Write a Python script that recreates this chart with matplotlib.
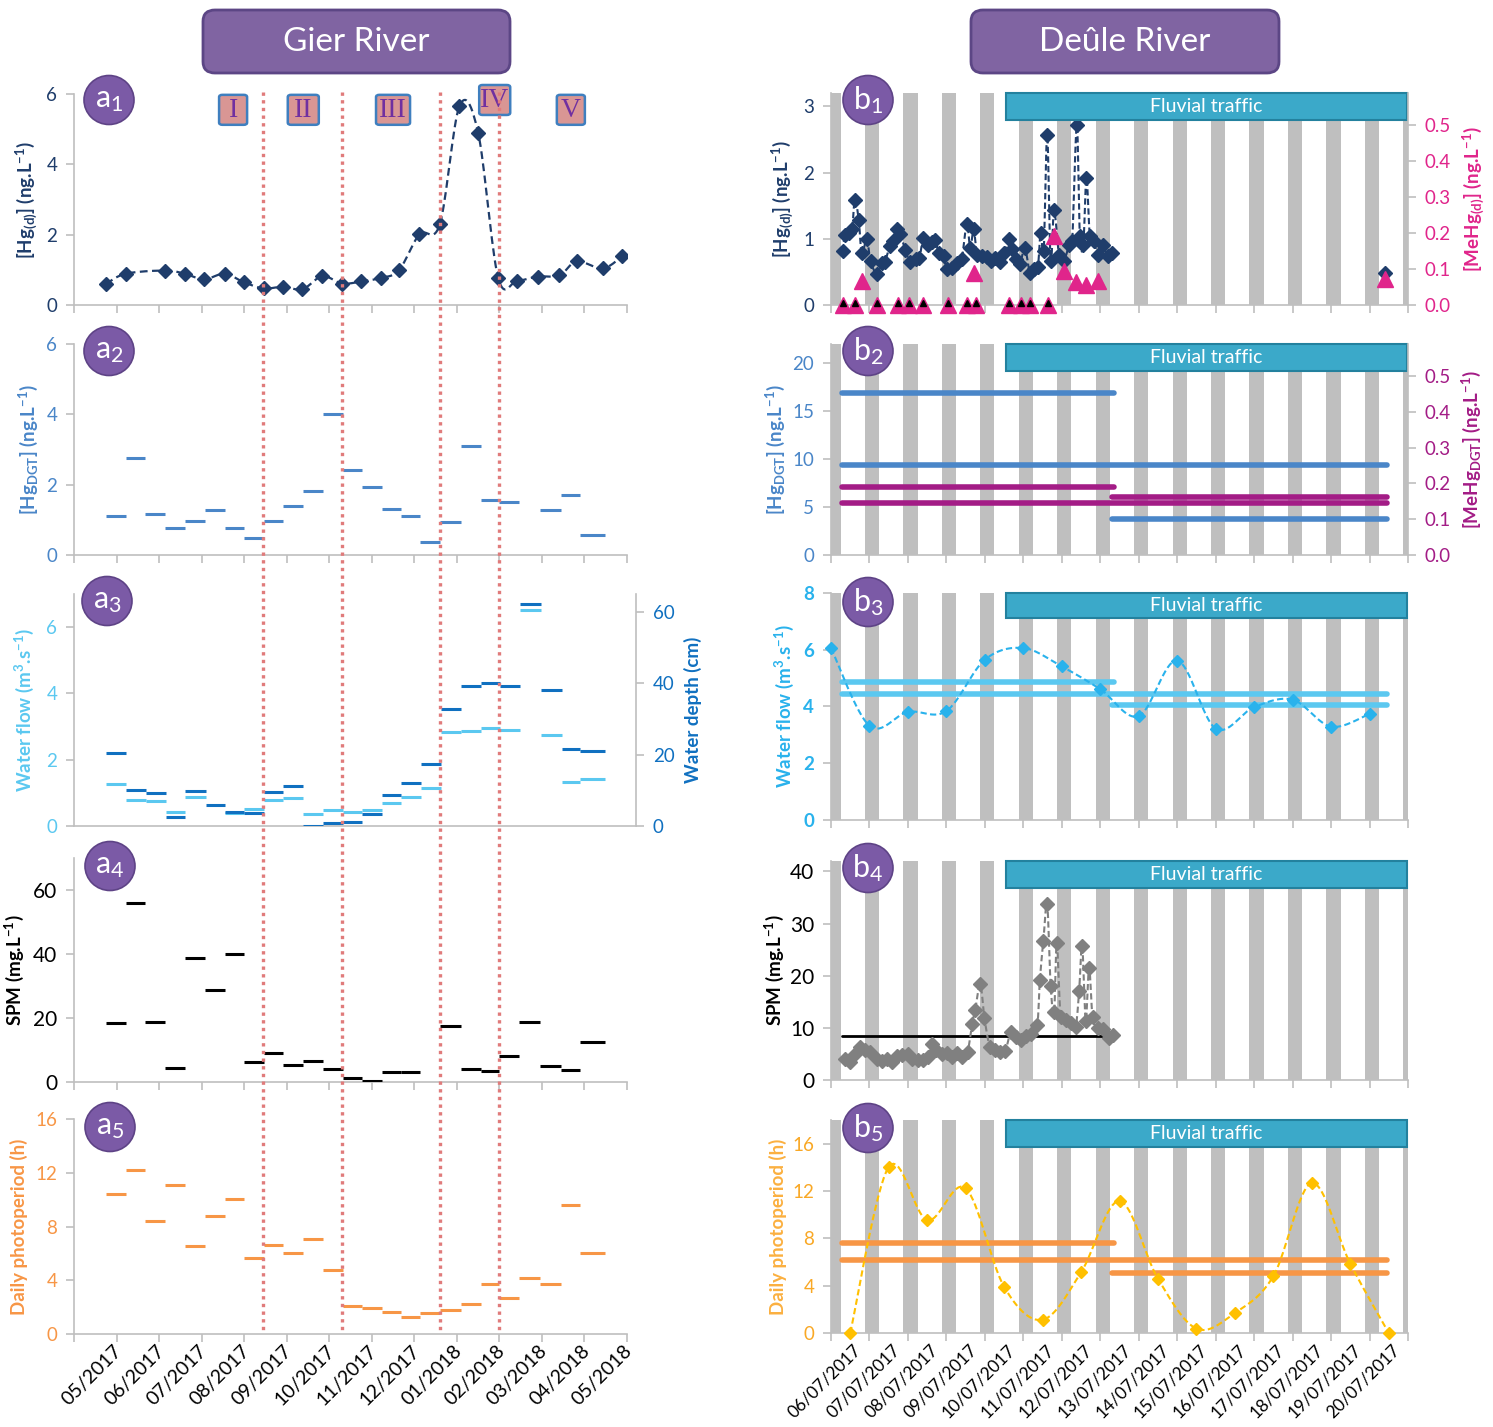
import numpy as np
import matplotlib
matplotlib.use("Agg")
import matplotlib.pyplot as plt
from matplotlib import transforms
from matplotlib.patches import Ellipse, FancyBboxPatch, Rectangle
from matplotlib.lines import Line2D

plt.rcParams['font.family'] = ['Lato', 'DejaVu Sans']
plt.rcParams['mathtext.fontset'] = 'custom'
plt.rcParams['mathtext.rm'] = 'Lato'
plt.rcParams['mathtext.default'] = 'regular'

# =============================
#     DATA - GIER RIVER
# =============================
# x positions in months, 0 = start of the axis (May 2017)
month_labels = ['05/2017', '06/2017', '07/2017', '08/2017', '09/2017', '10/2017', '11/2017',
                '12/2017', '01/2018', '02/2018', '03/2018', '04/2018', '05/2018']

hg_d_month = [0.75, 1.22, 2.14, 2.60, 3.06, 3.54, 3.99, 4.46, 4.91, 5.37, 5.84, 6.30, 6.75,
              7.21, 7.64, 8.12, 8.60, 9.06, 9.50, 9.97, 10.42, 10.90, 11.41, 11.82, 12.43, 12.89]
hg_d_gier = [0.60, 0.89, 0.98, 0.89, 0.73, 0.89, 0.65, 0.47, 0.52, 0.45, 0.82, 0.61, 0.67,
             0.77, 0.99, 2.01, 2.30, 5.65, 4.90, 0.78, 0.69, 0.81, 0.84, 1.24, 1.04, 1.39]

# DGT deployment periods (edges)
dgt_edges = [0.76, 1.23, 1.68, 2.15, 2.61, 3.09, 3.54, 4.00, 4.46, 4.92, 5.38, 5.86, 6.32,
             6.77, 7.23, 7.68, 8.14, 8.61, 9.09, 9.57, 10.00, 10.47, 10.96, 11.46, 11.89, 12.48]
nan = np.nan
hg_dgt_gier = [1.10, 2.77, 1.18, 0.78, 0.97, 1.29, 0.78, 0.48, 0.96, 1.38, 1.81, 4.00, 2.42,
               1.93, 1.31, 1.12, 0.37, 0.94, 3.10, 1.55, 1.52, nan, 1.29, 1.70, 0.56]
flow_gier = [1.28, 0.78, 0.76, 0.43, 0.87, nan, 0.39, 0.50, 0.79, 0.83, 0.36, 0.48, 0.41,
             0.48, 0.70, 0.86, 1.16, 2.83, 2.86, 2.95, 2.89, 6.51, 2.74, 1.34, 1.42]
depth_gier = [20.4, 10.0, 9.2, 2.4, 9.9, 6.0, 3.9, 3.7, 9.5, 11.2, 0.0, 0.9, 1.2,
              3.5, 8.8, 12.1, 17.4, 32.8, 39.3, 40.0, 39.3, 62.3, 38.0, 21.5, 20.9]
spm_gier = [18.5, 55.9, 18.8, 4.3, 38.9, 28.6, 39.9, 6.2, 9.0, 5.2, 6.6, 4.2, 1.4,
            0.3, 3.2, 3.2, nan, 17.4, 4.0, 3.3, 8.2, 18.6, 5.1, 3.8, 12.4]
photo_gier = [10.45, 12.22, 8.39, 11.10, 6.52, 8.81, 10.03, 5.67, 6.62, 6.00, 7.09, 4.78, 2.09,
              1.97, 1.64, 1.27, 1.54, 1.82, 2.24, 3.71, 2.71, 4.20, 3.71, 9.60, 6.02]

period_limits = [4.45, 6.31, 8.60, 9.99]
period_names = ['I', 'II', 'III', 'IV', 'V']
period_label_x = [3.74, 5.39, 7.50, 9.89, 11.68]
period_label_y = [5.55, 5.55, 5.55, 5.83, 5.55]

# =============================
#     DATA - DEULE RIVER
# =============================
# x positions in days, 0 = 06/07/2017 00:00
day_labels = ['%02d/07/2017' % d for d in range(6, 21)]

hg_d_days = [0.30, 0.36, 0.47, 0.55, 0.62, 0.72, 0.80, 0.93, 1.03, 1.19, 1.32, 1.40, 1.53, 1.62,
             1.71, 1.80, 1.93, 2.06, 2.21, 2.30, 2.40, 2.52, 2.62, 2.71, 2.80, 2.93, 3.01, 3.14,
             3.27, 3.40, 3.53, 3.62, 3.71, 3.80, 3.93, 4.06, 4.17, 4.27, 4.40, 4.51, 4.62, 4.71,
             4.80, 4.91, 5.04, 5.17, 5.29, 5.38, 5.45, 5.53, 5.62, 5.71, 5.80, 5.93, 6.06, 6.19,
             6.27, 6.39, 6.47, 6.56, 6.64, 6.73, 6.84, 6.93, 7.06, 7.19, 7.30, 14.40]
hg_d_deule = [0.81, 1.06, 1.09, 1.15, 1.59, 1.29, 0.79, 0.99, 0.66, 0.47, 0.63, 0.65, 0.89, 0.96,
              1.15, 1.07, 0.83, 0.65, 0.69, 0.71, 1.01, 0.91, 0.95, 0.98, 0.79, 0.74, 0.55, 0.56,
              0.63, 0.70, 1.23, 0.86, 1.14, 0.75, 0.74, 0.72, 0.67, 0.71, 0.65, 0.79, 1.00, 0.84,
              0.69, 0.62, 0.86, 0.49, 0.55, 0.58, 1.09, 0.82, 2.57, 0.66, 1.43, 0.75, 0.67, 0.91,
              0.96, 2.71, 1.04, 0.91, 1.92, 1.04, 0.96, 0.76, 0.90, 0.74, 0.79, 0.48]

mehg_days = [0.30, 0.62, 0.80, 1.19, 1.73, 2.04, 2.39, 3.03, 3.53, 3.73, 3.77, 4.64, 4.93, 5.17,
             5.64, 5.80, 6.06, 6.38, 6.64, 6.93, 14.40]
mehg_deule = [0, 0, 0.066, 0, 0, 0, 0, 0, 0, 0.089, 0, 0, 0, 0,
              0, 0.193, 0.094, 0.063, 0.055, 0.066, 0.073]

# DGT periods: first week, whole deployment, second week
dgt_start = [0.28, 0.28, 7.30]
dgt_end = [7.35, 14.45, 14.45]
hg_dgt_deule = [16.9, 9.36, 3.78]
mehg_dgt_deule = [0.189, 0.145, 0.161]
flow_dgt_deule = [4.87, 4.44, 4.04]
spm_dgt_deule = [8.38, nan, nan]
photo_dgt_deule = [7.59, 6.16, 5.09]

flow_days = list(range(15))
flow_deule = [6.06, 3.32, 3.81, 3.84, 5.65, 6.06, 5.41, 4.61, 3.66, 5.62, 3.22, 3.98, 4.24, 3.29, 3.74]

spm_days = [0.36, 0.49, 0.62, 0.75, 0.88, 1.01, 1.19, 1.32, 1.45, 1.58, 1.71, 1.84, 1.99, 2.10,
            2.25, 2.39, 2.51, 2.62, 2.74, 2.88, 3.01, 3.14, 3.27, 3.40, 3.55, 3.67, 3.75, 3.88,
            3.99, 4.13, 4.27, 4.40, 4.53, 4.67, 4.80, 4.93, 5.06, 5.19, 5.36, 5.43, 5.52, 5.62,
            5.71, 5.80, 5.87, 5.97, 6.10, 6.23, 6.36, 6.45, 6.53, 6.62, 6.71, 6.80, 6.93, 7.06,
            7.23, 7.34]
spm_deule = [4.1, 3.5, 4.9, 6.3, 5.8, 5.4, 4.1, 3.6, 4.1, 3.5, 4.6, 4.8, 4.9, 4.1,
             3.8, 3.9, 4.4, 6.9, 5.8, 4.9, 5.2, 4.4, 5.2, 4.4, 5.4, 10.8, 13.5, 18.4,
             11.8, 6.3, 5.8, 5.4, 5.5, 9.2, 8.3, 7.6, 8.4, 8.9, 10.5, 19.2, 26.7, 33.7,
             18.1, 13.0, 26.2, 12.1, 11.6, 10.9, 10.2, 17.0, 25.7, 11.4, 21.5, 12.1, 10.0, 9.8,
             8.1, 8.6]

photo_days = [0.5, 1.5, 2.5, 3.5, 4.5, 5.5, 6.5, 7.5, 8.5, 9.5, 10.5, 11.5, 12.5, 13.5, 14.5]
photo_deule = [0.0, 14.03, 9.53, 12.23, 3.91, 1.12, 5.12, 11.16, 4.58, 0.37, 1.69, 4.81, 12.68, 5.85, 0.0]

# nights (grey bars), hours relative to midnight
night_begin_h = -2.9
night_end_h = 6.0
traffic_start = 4.55
traffic_end = 14.97

# =============================
#     COLOURS
# =============================
NAVY = '#1f3d6b'
HGDGT = '#4a86c8'
FLOW = '#5bc8f0'
FLOW_B = '#29b2ec'
DEPTH = '#1070c0'
ORANGE = '#f79646'
GOLD = '#ffc000'
GOLD_TXT = '#f9a825'
MAGENTA = '#e0258b'
PURPLE_M = '#a31c86'
GRAYBAR = '#bfbfbf'
AXGRAY = '#bfbfbf'
TEAL = '#3ba9c9'
TEAL_EDGE = '#23819e'
BADGE = '#7b5aa6'
RED_DOT = '#e07b7b'

W, H = 1493, 1427
fig = plt.figure(figsize=(W / 100, H / 100), dpi=100)


def px_axes(l, t, r, b):
    return fig.add_axes([l / W, 1 - b / H, (r - l) / W, (b - t) / H])


def smooth(x, y, n=16):
    # Catmull-Rom curve through the points (Excel "smoothed line")
    pts = np.column_stack([x, y]).astype(float)
    if len(pts) < 3:
        return pts[:, 0], pts[:, 1]
    P = np.vstack([pts[0], pts, pts[-1]])
    t = np.linspace(0, 1, n, endpoint=False)[:, None]
    out = []
    for i in range(len(pts) - 1):
        p0, p1, p2, p3 = P[i], P[i + 1], P[i + 2], P[i + 3]
        seg = 0.5 * (2 * p1 + (-p0 + p2) * t + (2 * p0 - 5 * p1 + 4 * p2 - p3) * t ** 2
                     + (-p0 + 3 * p1 - 3 * p2 + p3) * t ** 3)
        out.append(seg)
    out.append(pts[-1:])
    c = np.vstack(out)
    return c[:, 0], c[:, 1]


def style(ax, ycolor, ysize=13.5):
    for s in ['top', 'right']:
        ax.spines[s].set_visible(False)
    for s in ['left', 'bottom']:
        ax.spines[s].set_color(AXGRAY)
        ax.spines[s].set_linewidth(1.2)
    ax.tick_params(axis='both', which='major', colors=AXGRAY, direction='out', length=6, width=1.2)
    ax.tick_params(axis='y', labelcolor=ycolor, labelsize=ysize, pad=6)
    ax.tick_params(axis='x', which='both', labelbottom=False)


def right_axis(ax, color, ylim, ticks, labels=None):
    r = ax.twinx()
    r.set_ylim(*ylim)
    r.set_yticks(ticks)
    if labels:
        r.set_yticklabels(labels)
    for s in ['top', 'left', 'bottom']:
        r.spines[s].set_visible(False)
    r.spines['right'].set_color(AXGRAY)
    r.spines['right'].set_linewidth(1.2)
    r.tick_params(axis='y', colors=AXGRAY, labelcolor=color, labelsize=13.5, length=6, width=1.2, pad=6)
    return r


def segments(ax, values, color, lw=2.2, edges=dgt_edges):
    for i, v in enumerate(values):
        if not np.isnan(v):
            ax.plot([edges[i], edges[i + 1]], [v, v], color=color, lw=lw, solid_capstyle='butt', zorder=3)


def badge(cx, cy, letter, num):
    e = Ellipse((cx / W, 1 - cy / H), 50 / W, 49 / H, transform=fig.transFigure,
                facecolor=BADGE, edgecolor='#5e4386', lw=1.2, zorder=10)
    fig.add_artist(e)
    fig.text(cx / W, 1 - cy / H, letter + '$_{' + num + '}$', color='white', fontsize=22,
             ha='center', va='center', zorder=11)


def ylab(ax, text, color, x, size=13.5):
    # x is the right edge of the rotated label, in axes fraction
    ax.set_ylabel(text, color=color, fontsize=size, fontweight='bold')
    ax.yaxis.set_label_coords(x, 0.5)


def rlab(ax, text, color, x, size=13.5):
    # x is the left edge of the rotated label, in axes fraction
    ax.set_ylabel(text, color=color, fontsize=size, fontweight='bold', rotation=90, va='top')
    ax.yaxis.set_label_coords(x, 0.5)


def month_axis(ax, xmax=13, labels=False):
    ax.set_xlim(0, xmax)
    ax.set_xticks(np.arange(0, 14))
    if labels:
        ax.set_xticks(np.arange(13) + 0.92, minor=True)
        ax.set_xticklabels(month_labels, minor=True, rotation=45, ha='right', va='top',
                           rotation_mode='anchor', fontsize=14, color='black')
        ax.tick_params(axis='x', which='minor', length=0, labelbottom=True, pad=6)


def day_axis(ax, labels=False):
    ax.set_xlim(0, 15)
    ax.set_xticks(np.arange(0, 16))
    for k in range(16):
        ax.axvspan(k + night_begin_h / 24, k + night_end_h / 24, color=GRAYBAR, lw=0, zorder=0)
    if labels:
        ax.set_xticks(np.arange(15) + 0.58, minor=True)
        ax.set_xticklabels(day_labels, minor=True, rotation=45, ha='right', va='top',
                           rotation_mode='anchor', fontsize=12.5, color='black')
        ax.tick_params(axis='x', which='minor', length=0, labelbottom=True, pad=6)


def traffic(ax, h):
    tr = transforms.blended_transform_factory(ax.transData, ax.transAxes)
    ax.add_patch(Rectangle((traffic_start, 1 - h), traffic_end - traffic_start, h, transform=tr,
                           facecolor=TEAL, edgecolor=TEAL_EDGE, lw=1.5, zorder=6, clip_on=False))
    ax.text((traffic_start + traffic_end) / 2, 1 - h / 2, 'Fluvial traffic', transform=tr,
            color='white', fontsize=14, ha='center', va='center', zorder=7)


def dgt_lines(ax, values, color, lw=4):
    for s, e, v in zip(dgt_start, dgt_end, values):
        if not np.isnan(v):
            ax.plot([s, e], [v, v], color=color, lw=lw, solid_capstyle='round', zorder=3)


HG_D_LABEL = '[Hg$_{(d)}$] (ng.L$^{-1}$)'
HG_DGT_LABEL = '[Hg$_{DGT}$] (ng.L$^{-1}$)'
FLOW_LABEL = 'Water flow (m$^{3}$.s$^{-1}$)'
SPM_LABEL = 'SPM (mg.L$^{-1}$)'
PHOTO_LABEL = 'Daily photoperiod (h)'

# =============================
#     GIER RIVER PANELS
# =============================
a1 = px_axes(74, 94, 627, 305)
style(a1, NAVY)
month_axis(a1)
a1.set_ylim(0, 6)
a1.set_yticks([0, 2, 4, 6])
sx, sy = smooth(hg_d_month, hg_d_gier)
a1.plot(sx, sy, color=NAVY, lw=1.6, ls=(0, (3.5, 2)), zorder=3)
a1.plot(hg_d_month, hg_d_gier, ls='none', marker='D', ms=7, color=NAVY, zorder=4)
ylab(a1, HG_D_LABEL, NAVY, x=-0.064)
# period boxes, fixed size in pixels (42.5 px per month, 35.2 px per ng/L)
for name, px, py in zip(period_names, period_label_x, period_label_y):
    bw = (28 + 3 * (len(name) - 1)) / 42.5
    bh = 30 / 35.2
    a1.add_patch(FancyBboxPatch((px - bw / 2, py - bh / 2), bw, bh,
                                boxstyle='round,pad=0,rounding_size=0.08', mutation_aspect=0.8,
                                facecolor='#d99694', edgecolor='#3f7fbf', lw=1.8, zorder=8,
                                clip_on=False))
    a1.text(px, py - 0.02, name, fontsize=20, color='#7030a0', family=['Liberation Serif', 'DejaVu Serif'],
            ha='center', va='center', zorder=9)

a2 = px_axes(74, 344, 627, 555)
style(a2, HGDGT)
month_axis(a2)
a2.set_ylim(0, 6)
a2.set_yticks([0, 2, 4, 6])
segments(a2, hg_dgt_gier, HGDGT)
ylab(a2, HG_DGT_LABEL, HGDGT, x=-0.061)

a3 = px_axes(74, 594, 636, 826)
style(a3, FLOW)
month_axis(a3, xmax=13.2)
a3.tick_params(axis='x', which='major', length=0)
a3.set_ylim(0, 7)
a3.set_yticks([0, 2, 4, 6])
a3r = right_axis(a3, DEPTH, (0, 65), [0, 20, 40, 60])
segments(a3, flow_gier, FLOW)
segments(a3r, depth_gier, DEPTH)
ylab(a3, FLOW_LABEL, FLOW, x=-0.068)
rlab(a3r, 'Water depth (cm)', DEPTH, x=1.085)

a4 = px_axes(74, 858, 627, 1082)
style(a4, 'black', ysize=15)
month_axis(a4)
a4.set_ylim(0, 70)
a4.set_yticks([0, 20, 40, 60])
segments(a4, spm_gier, 'black')
ylab(a4, SPM_LABEL, 'black', x=-0.086)

a5 = px_axes(74, 1119, 627, 1334)
style(a5, ORANGE)
month_axis(a5, labels=True)
a5.set_ylim(0, 16)
a5.set_yticks([0, 4, 8, 12, 16])
segments(a5, photo_gier, ORANGE)
ylab(a5, PHOTO_LABEL, ORANGE, x=-0.084)

# period limits across all Gier panels
tr_dot = transforms.blended_transform_factory(a1.transData, fig.transFigure)
for xv in period_limits:
    fig.add_artist(Line2D([xv, xv], [1 - 92 / H, 1 - 1334 / H], transform=tr_dot,
                          color=RED_DOT, lw=2.4, ls=(0, (1, 1.3)), zorder=5))

# =============================
#     DEULE RIVER PANELS
# =============================
mehg_ticks = [0, 0.1, 0.2, 0.3, 0.4, 0.5]
mehg_ticklabels = ['0.0', '0.1', '0.2', '0.3', '0.4', '0.5']

b1 = px_axes(831, 93, 1408, 305)
style(b1, NAVY)
day_axis(b1)
b1.set_ylim(0, 3.2)
b1.set_yticks([0, 1, 2, 3])
hd = np.array(hg_d_days)
hv = np.array(hg_d_deule)
main = hd < 10
sx, sy = smooth(hd[main], hv[main], n=8)
b1.plot(sx, sy, color=NAVY, lw=1.5, ls=(0, (3, 1.6)), zorder=3)
b1.plot(hd, hv, ls='none', marker='D', ms=7, color=NAVY, zorder=4)
ylab(b1, HG_D_LABEL, NAVY, x=-0.062)
b1r = right_axis(b1, MAGENTA, (0, 0.59), mehg_ticks, mehg_ticklabels)
md = np.array(mehg_days)
mv = np.array(mehg_deule)
b1r.plot(md, mv, ls='none', marker='^', ms=11, color=MAGENTA, clip_on=False, zorder=5)
b1r.plot(md[mv == 0], mv[mv == 0] + 0.006, ls='none', marker='^', ms=4, color='black',
         clip_on=False, zorder=6)
rlab(b1r, '[MeHg$_{(d)}$] (ng.L$^{-1}$)', MAGENTA, x=1.09)
traffic(b1, 0.127)

b2 = px_axes(831, 344, 1408, 555)
style(b2, HGDGT)
day_axis(b2)
b2.set_ylim(0, 22)
b2.set_yticks([0, 5, 10, 15, 20])
dgt_lines(b2, hg_dgt_deule, HGDGT)
ylab(b2, HG_DGT_LABEL, HGDGT, x=-0.076)
b2r = right_axis(b2, PURPLE_M, (0, 0.59), mehg_ticks, mehg_ticklabels)
dgt_lines(b2r, mehg_dgt_deule, PURPLE_M)
rlab(b2r, '[MeHg$_{DGT}$] (ng.L$^{-1}$)', PURPLE_M, x=1.09)
traffic(b2, 0.128)

b3 = px_axes(831, 593, 1408, 820)
style(b3, FLOW_B)
day_axis(b3)
b3.set_ylim(0, 8)
b3.set_yticks([0, 2, 4, 6, 8])
b3.set_yticklabels(['0', '2', '4', '6', '8'], fontweight='bold')
dgt_lines(b3, flow_dgt_deule, FLOW)
sx, sy = smooth(flow_days, flow_deule)
b3.plot(sx, sy, color=FLOW_B, lw=1.5, ls=(0, (3, 1.6)), zorder=4)
b3.plot(flow_days, flow_deule, ls='none', marker='D', ms=6.5, color=FLOW_B, zorder=5, clip_on=False)
ylab(b3, FLOW_LABEL, FLOW_B, x=-0.06)
traffic(b3, 0.112)

b4 = px_axes(831, 861, 1408, 1080)
style(b4, 'black', ysize=15)
day_axis(b4)
b4.set_ylim(0, 42)
b4.set_yticks([0, 10, 20, 30, 40])
dgt_lines(b4, spm_dgt_deule, 'black', lw=2)
sx, sy = smooth(spm_days, spm_deule, n=8)
b4.plot(sx, sy, color='#808080', lw=1.5, ls=(0, (3, 1.6)), zorder=4)
b4.plot(spm_days, spm_deule, ls='none', marker='D', ms=7, color='#808080', zorder=5)
ylab(b4, SPM_LABEL, 'black', x=-0.078)
traffic(b4, 0.125)

b5 = px_axes(831, 1120, 1408, 1333)
style(b5, GOLD_TXT)
day_axis(b5, labels=True)
b5.set_ylim(0, 18)
b5.set_yticks([0, 4, 8, 12, 16])
dgt_lines(b5, photo_dgt_deule, ORANGE)
sx, sy = smooth(photo_days, photo_deule)
b5.plot(sx, sy, color=GOLD, lw=1.5, ls=(0, (3, 1.6)), zorder=4)
b5.plot(photo_days, photo_deule, ls='none', marker='D', ms=6.5, color=GOLD, zorder=5, clip_on=False)
ylab(b5, PHOTO_LABEL, '#fbb040', x=-0.076)
traffic(b5, 0.125)

# =============================
#     TITLES AND BADGES
# =============================
for (l, r), title in zip([(203, 510), (971, 1279)], ['Gier River', 'Deûle River']):
    box = FancyBboxPatch((l / W, 1 - 73 / H), (r - l) / W, 63 / H, transform=fig.transFigure,
                         boxstyle='round,pad=0,rounding_size=0.008', facecolor='#8064a2',
                         edgecolor='#5c4685', lw=2)
    fig.add_artist(box)
    fig.text((l + r) / 2 / W, 1 - 42 / H, title, color='white', fontsize=24, ha='center', va='center')

for cx, cy, let, num in [(109, 100, 'a', '1'), (109, 351, 'a', '2'), (107, 601, 'a', '3'),
                         (110, 866, 'a', '4'), (110, 1127, 'a', '5'),
                         (868, 100, 'b', '1'), (868, 351, 'b', '2'), (868, 602, 'b', '3'),
                         (868, 868, 'b', '4'), (868, 1128, 'b', '5')]:
    badge(cx, cy, let, num)

fig.savefig('out.png', dpi=100, facecolor='white')
